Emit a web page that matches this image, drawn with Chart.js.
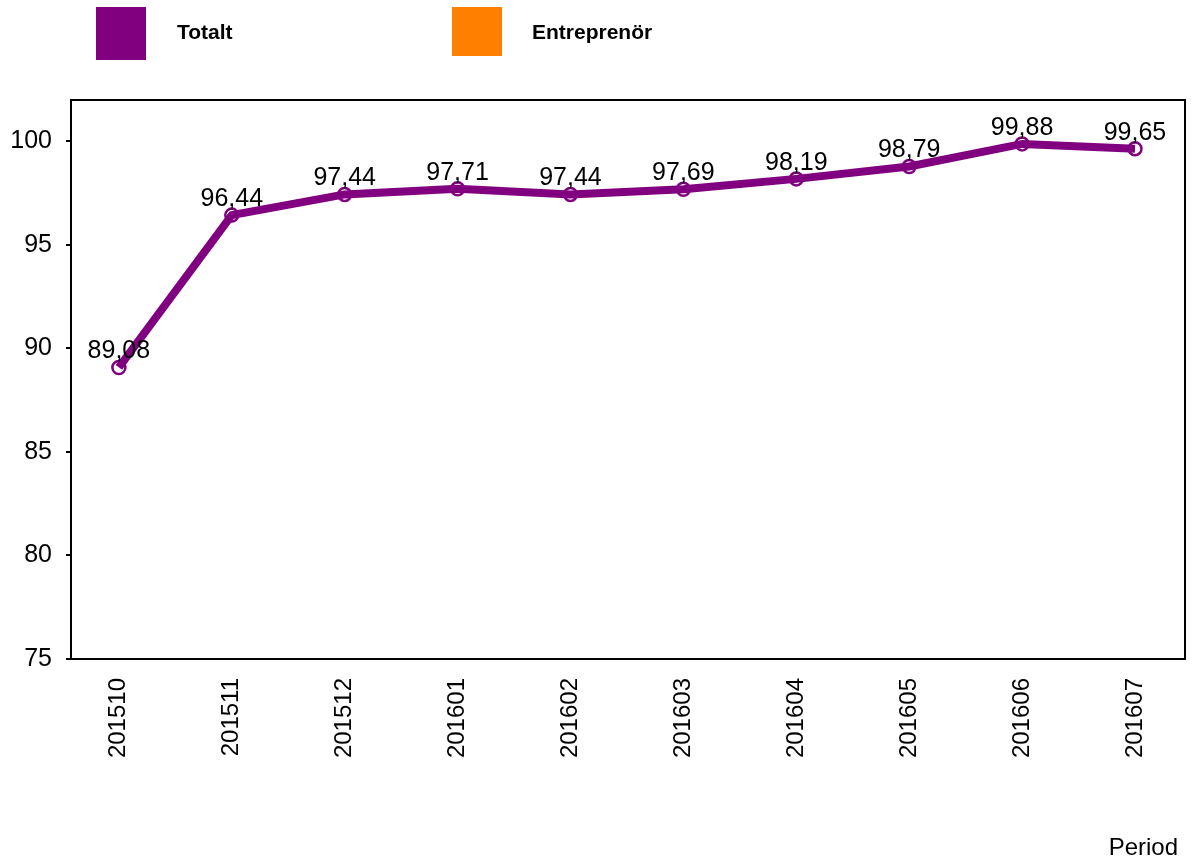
<!DOCTYPE html>
<html>
<head>
<meta charset="utf-8">
<script src="https://cdn.jsdelivr.net/npm/chart.js@4/dist/chart.umd.min.js"></script>
<style>
html,body{margin:0;padding:0;background:#fff;}
#wrap{width:1194px;height:865px;}
</style>
</head>
<body>
<div id="wrap"><canvas id="c" width="1194" height="865"></canvas></div>
<script>
const categories = ['201510','201511','201512','201601','201602','201603','201604','201605','201606','201607'];
const totalt = [89.08, 96.44, 97.44, 97.71, 97.44, 97.69, 98.19, 98.79, 99.88, 99.65];
const entreprenor = [];
const seriesNames = ['Totalt', 'Entreprenör'];
const seriesColors = ['#800080', '#FF8000'];
const yTicks = [75, 80, 85, 90, 95, 100];
const xTitle = 'Period';

const FONT = '"Liberation Sans", Arial, sans-serif';

const boxPlugin = {
  id: 'box',
  beforeDatasetsDraw(chart) {
    const {ctx, chartArea: a} = chart;
    ctx.save();
    ctx.strokeStyle = '#000';
    ctx.lineWidth = 2;
    ctx.strokeRect(a.left, a.top, a.right - a.left, a.bottom - a.top);
    ctx.restore();
  }
};

const labelPlugin = {
  id: 'valueLabels',
  afterDatasetsDraw(chart) {
    const {ctx} = chart;
    const meta = chart.getDatasetMeta(0);
    const ds = chart.data.datasets[0];
    ctx.save();
    ctx.font = '25px ' + FONT;
    ctx.fillStyle = '#000';
    ctx.textAlign = 'center';
    ctx.textBaseline = 'alphabetic';
    meta.data.forEach((pt, i) => {
      const v = ds.data[i].y;
      ctx.fillText(v.toFixed(2).replace('.', ','), pt.x, pt.y - 9);
    });
    ctx.restore();
  }
};

const legendPlugin = {
  id: 'customLegend',
  afterDraw(chart) {
    const {ctx} = chart;
    const items = [
      {x: 96, y: 7, w: 50, h: 53, tx: 177},
      {x: 452, y: 7, w: 50, h: 49, tx: 532}
    ];
    ctx.save();
    ctx.font = 'bold 21px ' + FONT;
    ctx.textBaseline = 'middle';
    ctx.textAlign = 'left';
    chart.data.datasets.forEach((ds, i) => {
      const it = items[i];
      ctx.fillStyle = ds.borderColor;
      ctx.fillRect(it.x, it.y, it.w, it.h);
      ctx.fillStyle = '#000';
      ctx.fillText(ds.label, it.tx, 33);
    });
    ctx.font = '24px ' + FONT;
    ctx.textAlign = 'right';
    ctx.fillText(xTitle, 1178, 848);
    ctx.restore();
  }
};

new Chart(document.getElementById('c'), {
  type: 'line',
  data: {
    datasets: [
      {
        label: seriesNames[0],
        data: totalt.map((v, i) => ({x: i, y: v})),
        borderColor: seriesColors[0],
        backgroundColor: seriesColors[0],
        borderWidth: 8,
        pointRadius: 6.5,
        pointBorderWidth: 2.5,
        pointBorderColor: seriesColors[0],
        pointBackgroundColor: 'rgba(0,0,0,0)',
        tension: 0
      },
      {
        label: seriesNames[1],
        data: entreprenor,
        borderColor: seriesColors[1],
        backgroundColor: seriesColors[1],
        borderWidth: 8
      }
    ]
  },
  options: {
    responsive: false,
    animation: false,
    devicePixelRatio: 1,
    layout: {padding: {top: 100, right: 6, left: 0, bottom: 0}},
    plugins: {legend: {display: false}, tooltip: {enabled: false}},
    scales: {
      x: {
        type: 'linear',
        min: -0.424,
        max: 9.443,
        afterBuildTicks(scale) { scale.ticks = categories.map((c, i) => ({value: i})); },
        afterFit(scale) { scale.height = 206; },
        border: {display: false},
        grid: {display: false, drawTicks: false},
        ticks: {
          autoSkip: false,
          minRotation: 90,
          maxRotation: 90,
          padding: 19,
          color: '#000',
          font: {size: 24, family: FONT},
          callback: (v) => categories[v]
        }
      },
      y: {
        min: 75,
        max: 102,
        afterBuildTicks(scale) { scale.ticks = yTicks.map(v => ({value: v})); },
        afterFit(scale) { scale.width = 71; },
        border: {display: false},
        grid: {drawOnChartArea: false, drawTicks: true, tickLength: 5, color: '#000', lineWidth: 2},
        ticks: {
          padding: 14,
          color: '#000',
          font: {size: 25, family: FONT}
        }
      }
    }
  },
  plugins: [boxPlugin, labelPlugin, legendPlugin]
});
</script>
</body>
</html>
